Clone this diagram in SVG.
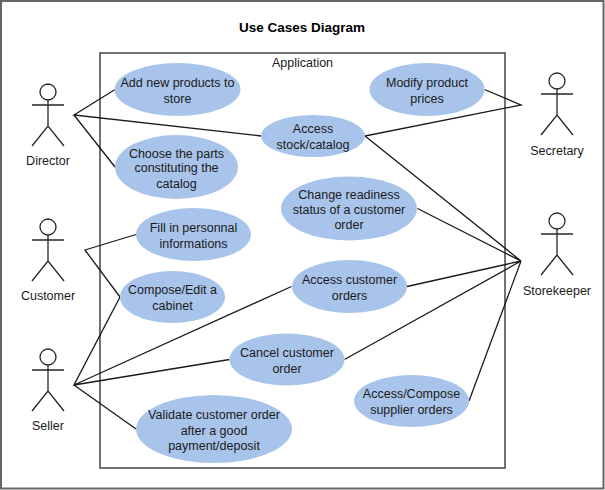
<svg xmlns="http://www.w3.org/2000/svg" width="605" height="490" viewBox="0 0 605 490">
<style>
text{font-family:"Liberation Sans",Arial,sans-serif;font-size:12.500px;fill:#1a1a1a;text-anchor:middle}
.title{font-size:13.500px;font-weight:bold;fill:#000}
.uc{fill:#a9c4eb;stroke:none}
.ln{stroke:#1a1a1a;stroke-width:1.3;fill:none}
.act{stroke:#262626;stroke-width:1.3;fill:#fff}
.frame{fill:none;stroke:#444;stroke-width:1.5}
</style>
<defs>
<g id="stick"><circle class="act" cx="0" cy="0" r="8"/><path class="act" style="fill:none" d="M0 8V34M-16 13H16M-16 54L0 34L16 54"/></g>
</defs>
<rect width="605" height="490" fill="#fff"/>
<rect x="1" y="1" width="602.500" height="487.500" fill="none" stroke="#666" stroke-width="2"/>
<text class="title" x="302" y="32">Use Cases Diagram</text>
<g id="system"><rect class="frame" x="100" y="53" width="405" height="415"/><text x="302.500" y="67">Application</text></g>
<g id="connectors">
<path class="ln" d="M115 89.500L74 115L261 136M74 115L115 167"/>
<path class="ln" d="M136 234.500L85 250L120 297"/>
<path class="ln" d="M120 297L74 385L291.500 286.500M74 385L229.500 359.500M74 385L136 429"/>
<path class="ln" d="M484.500 89.500L521 105L365 136"/>
<path class="ln" d="M365 136L521 261L417.500 208.500M521 261L407 286.500M521 261L344.500 359.500M521 261L469 401"/>
</g>
<g id="uc-add"><ellipse class="uc" cx="177.500" cy="89.500" rx="63" ry="26.500"/><text x="177.500" y="86.500">Add new products to</text><text x="177.500" y="102.500">store</text></g>
<g id="uc-choose"><ellipse class="uc" cx="176.500" cy="167" rx="61.500" ry="32"/><text x="176.500" y="157.500">Choose the parts</text><text x="176.500" y="172">constituting the</text><text x="176.500" y="187.500">catalog</text></g>
<g id="uc-fill"><ellipse class="uc" cx="193.500" cy="234.500" rx="57.500" ry="26.500"/><text x="193.500" y="232">Fill in personnal</text><text x="193.500" y="248">informations</text></g>
<g id="uc-compose"><ellipse class="uc" cx="172.500" cy="297" rx="52.500" ry="26"/><text x="172.500" y="294">Compose/Edit a</text><text x="172.500" y="310">cabinet</text></g>
<g id="uc-stock"><ellipse class="uc" cx="313" cy="136" rx="52" ry="21"/><text x="313" y="133">Access</text><text x="313" y="149">stock/catalog</text></g>
<g id="uc-modify"><ellipse class="uc" cx="427" cy="89.500" rx="57.500" ry="26.500"/><text x="427" y="86.500">Modify product</text><text x="427" y="102.500">prices</text></g>
<g id="uc-change"><ellipse class="uc" cx="349" cy="208.500" rx="68" ry="32"/><text x="349" y="199">Change readiness</text><text x="349" y="213.500">status of a customer</text><text x="349" y="229">order</text></g>
<g id="uc-orders"><ellipse class="uc" cx="349.500" cy="286.500" rx="57.500" ry="26.500"/><text x="349.500" y="283.500">Access customer</text><text x="349.500" y="299.500">orders</text></g>
<g id="uc-cancel"><ellipse class="uc" cx="287" cy="359.500" rx="57.500" ry="26"/><text x="287" y="356.500">Cancel customer</text><text x="287" y="372.500">order</text></g>
<g id="uc-supplier"><ellipse class="uc" cx="411.500" cy="401" rx="57.500" ry="26"/><text x="411.500" y="398">Access/Compose</text><text x="411.500" y="414">supplier orders</text></g>
<g id="uc-validate"><ellipse class="uc" cx="214" cy="429" rx="78" ry="34"/><text x="214" y="419">Validate customer order</text><text x="214" y="434.500">after a good</text><text x="214" y="450">payment/deposit</text></g>
<g id="director"><use href="#stick" x="48" y="92"/><text x="48" y="165">Director</text></g>
<g id="customer"><use href="#stick" x="48" y="227"/><text x="48" y="300">Customer</text></g>
<g id="seller"><use href="#stick" x="48" y="357"/><text x="48" y="430">Seller</text></g>
<g id="secretary"><use href="#stick" x="557" y="81"/><text x="557" y="155">Secretary</text></g>
<g id="storekeeper"><use href="#stick" x="557" y="221"/><text x="557" y="294.500">Storekeeper</text></g>
</svg>
